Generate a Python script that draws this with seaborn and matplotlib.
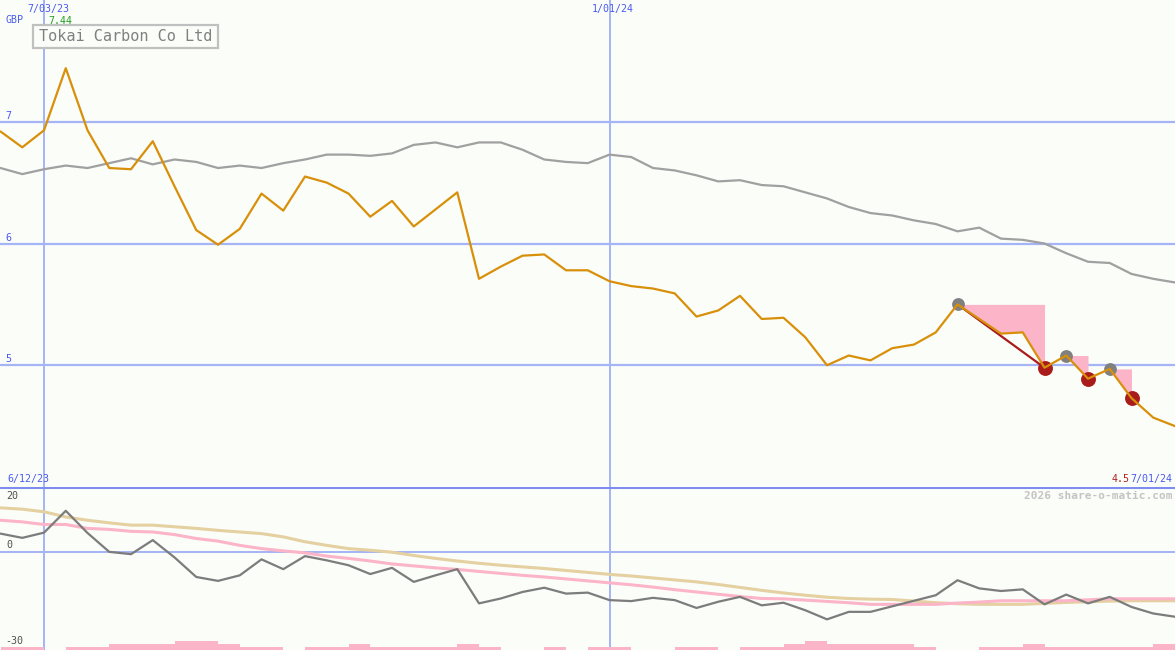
import numpy as np
import pandas as pd
import matplotlib
matplotlib.use("Agg")
import matplotlib.pyplot as plt
import matplotlib.patches as mpatches
import seaborn as sns

# ---------------- data ----------------
dates = pd.date_range("2023-06-19", periods=55, freq="7D")

price = [6.92, 6.79, 6.93, 7.44, 6.93, 6.62, 6.61, 6.84, 6.47, 6.11,
         5.99, 6.12, 6.41, 6.27, 6.55, 6.50, 6.41, 6.22, 6.35, 6.14,
         6.28, 6.42, 5.71, 5.81, 5.90, 5.91, 5.78, 5.78, 5.69, 5.65,
         5.63, 5.59, 5.40, 5.45, 5.57, 5.38, 5.39, 5.23, 5.00, 5.08,
         5.04, 5.14, 5.17, 5.27, 5.50, 5.38, 5.26, 5.27, 4.98, 5.08,
         4.89, 4.97, 4.73, 4.57, 4.50]

index_line = [6.62, 6.57, 6.61, 6.64, 6.62, 6.66, 6.70, 6.65, 6.69, 6.67,
              6.62, 6.64, 6.62, 6.66, 6.69, 6.73, 6.73, 6.72, 6.74, 6.81,
              6.83, 6.79, 6.83, 6.83, 6.77, 6.69, 6.67, 6.66, 6.73, 6.71,
              6.62, 6.60, 6.56, 6.51, 6.52, 6.48, 6.47, 6.42, 6.37, 6.30,
              6.25, 6.23, 6.19, 6.16, 6.10, 6.13, 6.04, 6.03, 6.00, 5.92,
              5.85, 5.84, 5.75, 5.71, 5.68]

rel = [5.7, 4.4, 6.0, 12.7, 5.9, 0.1, -0.6, 3.7, -1.6, -7.6,
       -8.8, -7.1, -2.2, -5.2, -1.2, -2.5, -4.0, -6.7, -4.8, -9.1,
       -7.1, -5.2, -15.7, -14.2, -12.2, -10.9, -12.7, -12.4, -14.7, -15.0,
       -14.0, -14.7, -17.1, -15.2, -13.7, -16.3, -15.5, -17.8, -20.6, -18.3,
       -18.3, -16.6, -14.9, -13.2, -8.6, -11.1, -11.9, -11.4, -16.0, -13.0,
       -15.7, -13.7, -16.8, -18.8, -19.8]

rel_avg_pink = [9.8, 9.3, 8.5, 8.5, 7.3, 7.0, 6.4, 6.2, 5.4, 4.2,
                3.4, 2.1, 1.1, 0.4, -0.2, -1.2, -1.9, -2.7, -3.6, -4.2,
                -4.8, -5.3, -5.9, -6.5, -7.1, -7.6, -8.2, -8.8, -9.4, -10.0,
                -10.7, -11.5, -12.2, -12.9, -13.6, -14.2, -14.3, -14.7, -15.1, -15.5,
                -16.0, -16.0, -16.0, -16.0, -15.6, -15.3, -14.9, -14.9, -14.9, -14.9,
                -14.6, -14.3, -14.3, -14.3, -14.3]

rel_avg_tan = [13.6, 13.2, 12.4, 10.8, 9.8, 9.0, 8.3, 8.3, 7.8, 7.3,
               6.7, 6.2, 5.7, 4.7, 3.2, 2.1, 1.1, 0.6, 0.0, -1.0,
               -1.9, -2.7, -3.4, -4.0, -4.5, -5.0, -5.6, -6.2, -6.8, -7.3,
               -7.9, -8.5, -9.1, -9.9, -10.8, -11.7, -12.5, -13.2, -13.8, -14.2,
               -14.4, -14.5, -15.0, -15.5, -15.8, -16.0, -16.0, -16.0, -15.7, -15.4,
               -15.2, -15.0, -14.9, -14.9, -14.9]

volume_level = [1, 1, 0, 1, 1, 2, 2, 2, 3, 3,
                2, 1, 1, 0, 1, 1, 2, 1, 1, 1,
                1, 2, 1, 0, 0, 1, 0, 1, 1, 0,
                0, 1, 1, 0, 1, 1, 2, 3, 2, 2,
                2, 2, 1, 0, 0, 1, 1, 2, 1, 1,
                1, 1, 1, 2, 0]

peak_idx = [44, 49, 51]
trough_idx = [48, 50, 52]

# ---------------- style ----------------
sns.set_theme(style="white")
plt.rcParams['font.family'] = ['DejaVu Sans Mono']

BG = "#fbfdf9"
GRID = "#a4b4f4"
SEP = "#7c8cf0"
BLUE_TXT = "#4a5af0"
ORANGE = "#d8900a"
GRAY_MAIN = "#a0a0a0"
GRAY_REL = "#7c7c7c"
PINK = "#fbb4c8"
TAN = "#e4d0a0"
DARKRED = "#a81c1c"

W, H = 1175, 650
fig = plt.figure(figsize=(W / 100, H / 100), dpi=100)
fig.patch.set_facecolor(BG)

split = 163 / H
ax = fig.add_axes([0, split, 1, 1 - split])
ax2 = fig.add_axes([0, 0, 1, split])
for a in (ax, ax2):
    a.set_facecolor(BG)
    for s in a.spines.values():
        s.set_visible(False)

xlim = (dates[0] - pd.Timedelta(hours=4), dates[-1])

# ---------------- main panel ----------------
for lvl in (7, 6, 5):
    ax.axhline(lvl, color=GRID, lw=1.6, zorder=1)
for d in ("2023-07-03", "2024-01-01"):
    ax.axvline(pd.Timestamp(d), color=GRID, lw=1.4, zorder=1)
    ax2.axvline(pd.Timestamp(d), color=GRID, lw=1.4, zorder=1)

sns.lineplot(x=dates, y=index_line, ax=ax, color=GRAY_MAIN, lw=1.6, zorder=3)

# drawdown shading
for p, t in zip(peak_idx, trough_idx):
    ax.fill_between(dates[p:t + 1], price[p:t + 1], price[p],
                    color=PINK, lw=0, zorder=2)
ax.plot([dates[peak_idx[0]], dates[trough_idx[0]]],
        [price[peak_idx[0]], price[trough_idx[0]]], color=DARKRED, lw=1.6, zorder=3)

ax.scatter([dates[i] for i in peak_idx], [price[i] for i in peak_idx],
           s=85, color="#808080", zorder=4, linewidths=0)
ax.scatter([dates[i] for i in trough_idx], [price[i] for i in trough_idx],
           s=115, color=DARKRED, zorder=4, linewidths=0)

sns.lineplot(x=dates, y=price, ax=ax, color=ORANGE, lw=1.6, zorder=5)

ax.set_xlim(xlim)
ax.set_ylim(4.0, 8.0)

# ---------------- lower panel ----------------
ax2.axhline(0, color=GRID, lw=1.4, zorder=1)
ax2.axhline(20, color=SEP, lw=2.2, zorder=6)
heights = [v * 0.95 for v in volume_level]
ax2.bar(dates, heights, width=7, align="edge", bottom=-30, color=PINK, lw=0, zorder=2)
sns.lineplot(x=dates, y=rel_avg_tan, ax=ax2, color=TAN, lw=2.2, zorder=3)
sns.lineplot(x=dates, y=rel_avg_pink, ax=ax2, color=PINK, lw=2.2, zorder=3)
sns.lineplot(x=dates, y=rel, ax=ax2, color=GRAY_REL, lw=1.6, zorder=4)
ax2.set_xlim(xlim)
ax2.set_ylim(-30, 20)

for a in (ax, ax2):
    a.set_xticks([])
    a.set_yticks([])
    a.set_xlabel("")
    a.set_ylabel("")


# ---------------- text ----------------
def ftext(x, y, s, **kw):
    kw.setdefault("fontsize", 7.2)
    kw.setdefault("va", "center")
    fig.text(x / W, 1 - y / H, s, **kw)

ftext(48, 9, "7/03/23", color=BLUE_TXT, ha="center")
ftext(613, 9, "1/01/24", color=BLUE_TXT, ha="center")
ftext(6, 20, "GBP", color=BLUE_TXT, ha="left")
ftext(48, 21, "7.44", color="#20a020", ha="left")
for lab, yy in (("7", 116), ("6", 238), ("5", 359)):
    ftext(5, yy, lab, color=BLUE_TXT, ha="left")

box = mpatches.Rectangle((33 / W, 1 - 48 / H), 185 / W, 23 / H, transform=fig.transFigure,
                         facecolor=BG, edgecolor="#c0c0c0", lw=1.6, zorder=10)
fig.add_artist(box)
fig.text(39 / W, 1 - 36.5 / H, "Tokai Carbon Co Ltd", fontsize=11, color="#808080",
         ha="left", va="center", zorder=11)

ftext(7, 479, "6/12/23", color=BLUE_TXT, ha="left")
ftext(1130, 479, "4.5", color="#b02020", ha="right")
ftext(1172, 479, "7/01/24", color=BLUE_TXT, ha="right")
ftext(1172, 496, "2026 share-o-matic.com", color="#c4c4c4", ha="right",
      fontsize=8, fontweight="bold")
ftext(6, 496, "20", color="#505050", ha="left")
ftext(6, 545, "0", color="#505050", ha="left")
ftext(5, 641, "-30", color="#505050", ha="left")

fig.savefig("out.png", dpi=100, facecolor=BG)
